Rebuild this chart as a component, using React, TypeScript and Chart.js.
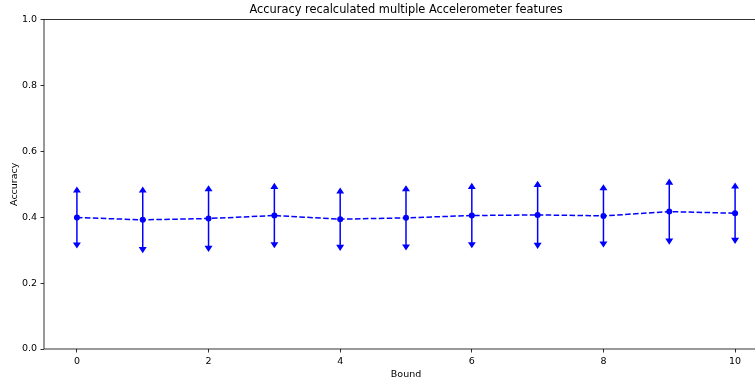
import React, { useEffect, useRef } from "react";
import { Chart, registerables } from "chart.js";

Chart.register(...registerables);

const bounds = [0, 1, 2, 3, 4, 5, 6, 7, 8, 9, 10];
const accuracy = [0.399, 0.392, 0.396, 0.405, 0.394, 0.398, 0.405, 0.407, 0.404, 0.417, 0.412];
const accuracyErr = [0.078, 0.085, 0.085, 0.083, 0.08, 0.083, 0.083, 0.087, 0.08, 0.084, 0.077];
const xTicks = [0, 2, 4, 6, 8, 10];
const yTicks = [0, 0.2, 0.4, 0.6, 0.8, 1.0];
const titleText = "Accuracy recalculated multiple Accelerometer features";
const xLabel = "Bound";
const yLabel = "Accuracy";

const FONT = "'DejaVu Sans', sans-serif";
const BLUE = "#0000ff";

export default function App() {
  const ref = useRef<HTMLCanvasElement>(null);

  useEffect(() => {
    const canvas = ref.current;
    if (!canvas) return;

    const decor = {
      id: "decor",
      beforeDatasetsDraw(chart: any) {
        const ctx = chart.ctx;
        const xs = chart.scales.x;
        const ys = chart.scales.y;
        ctx.save();
        ctx.strokeStyle = BLUE;
        ctx.fillStyle = BLUE;
        ctx.lineWidth = 1.5;
        ctx.lineJoin = "miter";
        bounds.forEach((b, i) => {
          const px = xs.getPixelForValue(b);
          const yHi = ys.getPixelForValue(accuracy[i] + accuracyErr[i]);
          const yLo = ys.getPixelForValue(accuracy[i] - accuracyErr[i]);
          ctx.beginPath();
          ctx.moveTo(px, yLo);
          ctx.lineTo(px, yHi);
          ctx.stroke();
          ctx.beginPath();
          ctx.moveTo(px - 2.6, yHi);
          ctx.lineTo(px, yHi - 4);
          ctx.lineTo(px + 2.6, yHi);
          ctx.closePath();
          ctx.fill();
          ctx.stroke();
          ctx.beginPath();
          ctx.moveTo(px - 2.6, yLo);
          ctx.lineTo(px, yLo + 4);
          ctx.lineTo(px + 2.6, yLo);
          ctx.closePath();
          ctx.fill();
          ctx.stroke();
        });
        ctx.restore();
      },
      afterDraw(chart: any) {
        const ctx = chart.ctx;
        const a = chart.chartArea;
        ctx.save();
        ctx.strokeStyle = "#000";
        ctx.lineWidth = 0.8;
        ctx.strokeRect(a.left, a.top, a.right - a.left, a.bottom - a.top);
        ctx.fillStyle = "#000";
        const cx = (a.left + a.right) / 2;
        ctx.textAlign = "center";
        ctx.textBaseline = "alphabetic";
        ctx.font = `11.4px ${FONT}`;
        ctx.fillText(titleText, cx, 13.3);
        ctx.font = `9.5px ${FONT}`;
        ctx.fillText(xLabel, cx, 377);
        ctx.translate(17, (a.top + a.bottom) / 2);
        ctx.rotate(-Math.PI / 2);
        ctx.fillText(yLabel, 0, 0);
        ctx.restore();
      },
    };

    const chart = new Chart(canvas, {
      type: "line",
      data: {
        datasets: [
          {
            data: bounds.map((b, i) => ({ x: b, y: accuracy[i] })),
            borderColor: BLUE,
            backgroundColor: BLUE,
            borderWidth: 1.5,
            borderDash: [5.55, 2.4],
            pointRadius: 3,
            pointBorderWidth: 0,
            pointBackgroundColor: BLUE,
            tension: 0,
            fill: false,
          },
        ],
      },
      options: {
        animation: false,
        responsive: false,
        devicePixelRatio: 1,
        layout: { padding: { left: 0, top: 19.5, right: 32, bottom: 0 } },
        plugins: {
          legend: { display: false },
          tooltip: { enabled: false },
          title: { display: false },
        },
        scales: {
          x: {
            type: "linear",
            min: -0.5,
            max: 10.5,
            border: { display: false },
            grid: {
              drawOnChartArea: false,
              drawTicks: true,
              tickLength: 3.5,
              tickWidth: 0.8,
              tickColor: "#000",
            },
            ticks: {
              color: "#000",
              font: { family: FONT, size: 9.5 },
              padding: 3,
              maxRotation: 0,
              callback: (v: any) => String(v),
            },
            afterBuildTicks: (s: any) => {
              s.ticks = xTicks.map((v) => ({ value: v }));
            },
            afterFit: (s: any) => {
              s.height = 31;
            },
          },
          y: {
            type: "linear",
            min: 0,
            max: 1,
            border: { display: false },
            grid: {
              drawOnChartArea: false,
              drawTicks: true,
              tickLength: 3.5,
              tickWidth: 0.8,
              tickColor: "#000",
            },
            ticks: {
              color: "#000",
              font: { family: FONT, size: 9.5 },
              padding: 3.5,
              callback: (v: any) => Number(v).toFixed(1),
            },
            afterBuildTicks: (s: any) => {
              s.ticks = yTicks.map((v) => ({ value: v }));
            },
            afterFit: (s: any) => {
              s.width = 44;
            },
          },
        },
      },
      plugins: [decor],
    });

    return () => chart.destroy();
  }, []);

  return (
    <div
      style={{
        position: "fixed",
        left: 0,
        top: 0,
        width: 755,
        height: 380,
        overflow: "hidden",
        background: "#fff",
      }}
    >
      <canvas ref={ref} width={800} height={380} style={{ width: 800, height: 380, display: "block" }} />
    </div>
  );
}
